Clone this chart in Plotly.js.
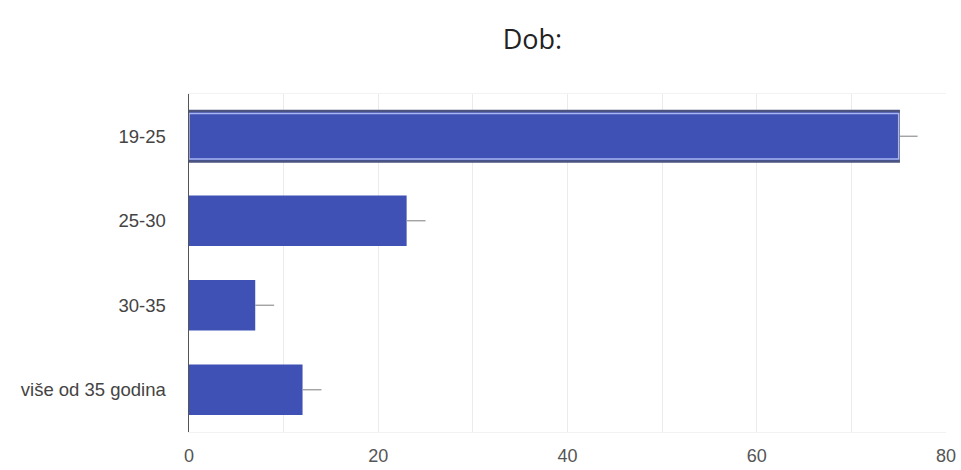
<!DOCTYPE html>
<html>
<head>
<meta charset="utf-8">
<script src="https://cdn.plot.ly/plotly-3.0.1.min.js"></script>
<style>html,body{margin:0;padding:0;background:#fff;}#chart{width:961px;height:470px;}</style>
</head>
<body>
<div id="chart"></div>
<script>
var categories = ["19-25", "25-30", "30-35", "više od 35 godina"];
var values = [75, 23, 7, 12];
var errorsPlus = [2, 2, 2, 2];
var errorsMinus = [0, 0, 0, 0];
var selectedIndex = 0;
var xTicks = [0, 20, 40, 60, 80];

var barColor = '#3f51b5';

var main = {
  type: 'bar', orientation: 'h',
  y: categories, x: values,
  marker: {color: barColor, line: {width: 0}},
  error_x: {type: 'data', symmetric: false, array: errorsPlus, arrayminus: errorsMinus,
            visible: true, color: '#9a9a9a', thickness: 1.3, width: 0},
  width: 0.6,
  hoverinfo: 'x+y', showlegend: false
};
var selOuter = {
  type: 'bar', orientation: 'h',
  y: [categories[selectedIndex]], x: [values[selectedIndex]],
  marker: {color: barColor, line: {color: '#4b5480', width: 2.5}},
  width: 0.6, showlegend: false, hoverinfo: 'skip'
};
var selInner = {
  type: 'bar', orientation: 'h',
  y: [categories[selectedIndex]], x: [values[selectedIndex]],
  marker: {color: 'rgba(0,0,0,0)', line: {color: '#a9b6f2', width: 1.5}},
  width: 0.54, showlegend: false, hoverinfo: 'skip'
};

var layout = {
  width: 961, height: 470,
  margin: {l: 189, r: 15, t: 94, b: 38},
  paper_bgcolor: '#fff', plot_bgcolor: '#fff',
  barmode: 'overlay',
  title: {text: 'Dob:', x: 0.554, xanchor: 'center', y: 0.915, yanchor: 'middle',
          font: {family: 'Open Sans, Noto Sans, sans-serif', size: 27, color: '#222'}},
  xaxis: {
    range: [0, 80], tickvals: xTicks, ticktext: xTicks.map(String),
    showgrid: true, gridcolor: '#ebebeb', gridwidth: 1,
    minor: {dtick: 10, showgrid: true, gridcolor: '#ebebeb', gridwidth: 1},
    zeroline: false, showline: true, mirror: true, linecolor: '#f2f2f2', linewidth: 1, ticks: '',
    ticklabelstandoff: 7,
    tickfont: {family: 'Liberation Sans, Arial, sans-serif', size: 18, color: '#555'}
  },
  yaxis: {
    autorange: 'reversed', type: 'category',
    showline: true, linecolor: '#555', linewidth: 1.5,
    showgrid: false, zeroline: false, ticks: '',
    ticklabelstandoff: 18,
    tickfont: {family: 'Liberation Sans, Arial, sans-serif', size: 18.5, color: '#444'}
  }
};

Plotly.newPlot('chart', [main, selOuter, selInner], layout, {displayModeBar: false, staticPlot: true});
</script>
</body>
</html>
